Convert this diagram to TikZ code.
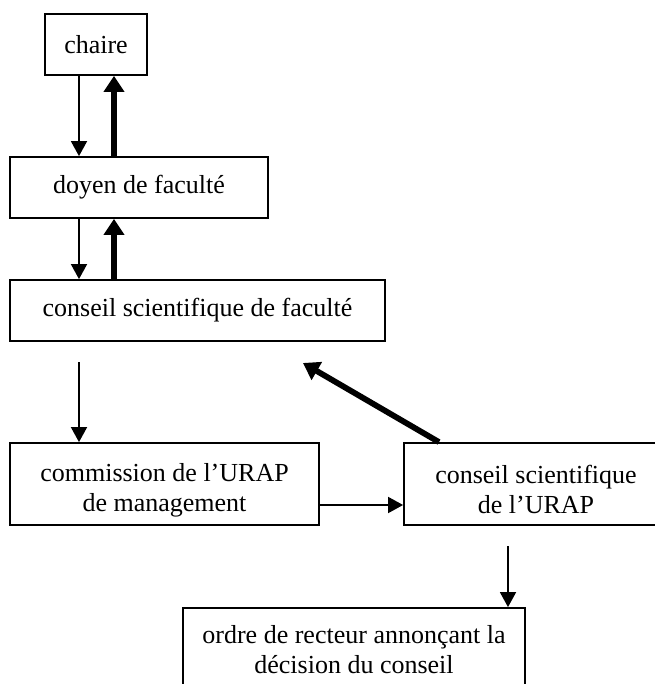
\documentclass[tikz,border=0pt]{standalone}
\usepackage{fontspec}
\setmainfont{Liberation Serif}
\usetikzlibrary{arrows.meta}
\newcommand{\lowstrut}{\rule{0pt}{30pt}}
\begin{document}
\begin{tikzpicture}[x=1pt,y=-1pt,
  box/.style={draw,line width=1.8pt,rectangle,inner sep=0pt,align=center,
    font=\fontsize{26}{30}\selectfont},
  thinarr/.style={line width=1.7pt,-{Triangle[width=16pt,length=15pt]}},
  thickarr/.style={line width=5.8pt,-{Triangle[width=20pt,length=16pt]}}]
\useasboundingbox (0,0) rectangle (654,684);
\fill[white] (0,0) rectangle (654,684);
\node[box,minimum width=102pt,minimum height=61pt] (chaire) at (96,44.5) {chaire};
\node[box,minimum width=258pt,minimum height=61pt] (doyen) at (139,187.5) {doyen de faculté};
\node[box,minimum width=375pt,minimum height=61pt] (csf) at (197.5,310.5) {conseil scientifique de faculté};
\node[box,minimum width=309pt,minimum height=82pt] (comm) at (164.5,484) {\lowstrut commission de l’URAP\\de management};
\node[box,minimum width=264pt,minimum height=82pt] (csu) at (536,484) {\lowstrut conseil scientifique\\de l’URAP};
\node[box,minimum width=342pt,minimum height=83pt] (ordre) at (354,649.5) {ordre de recteur annonçant la\\décision du conseil};
\coordinate (xa) at (79,0);
\coordinate (xb) at (114,0);
\coordinate (ya) at (0,505);
\coordinate (xc) at (439,0);
\coordinate (xd) at (508,0);
\coordinate (s1) at (79,362);
\coordinate (e1) at (303,363);
\coordinate (s2) at (508,546);
\draw[thinarr] (chaire.south -| xa) -- (doyen.north -| xa);
\draw[thickarr] (doyen.north -| xb) -- (chaire.south -| xb);
\draw[thinarr] (doyen.south -| xa) -- (csf.north -| xa);
\draw[thickarr] (csf.north -| xb) -- (doyen.south -| xb);
\draw[thinarr] (s1) -- (comm.north -| s1);
\draw[thickarr] (csu.north -| xc) -- (e1);
\draw[thinarr] (comm.east |- ya) -- (csu.west |- ya);
\draw[thinarr] (s2) -- (ordre.north -| s2);
\end{tikzpicture}
\end{document}
